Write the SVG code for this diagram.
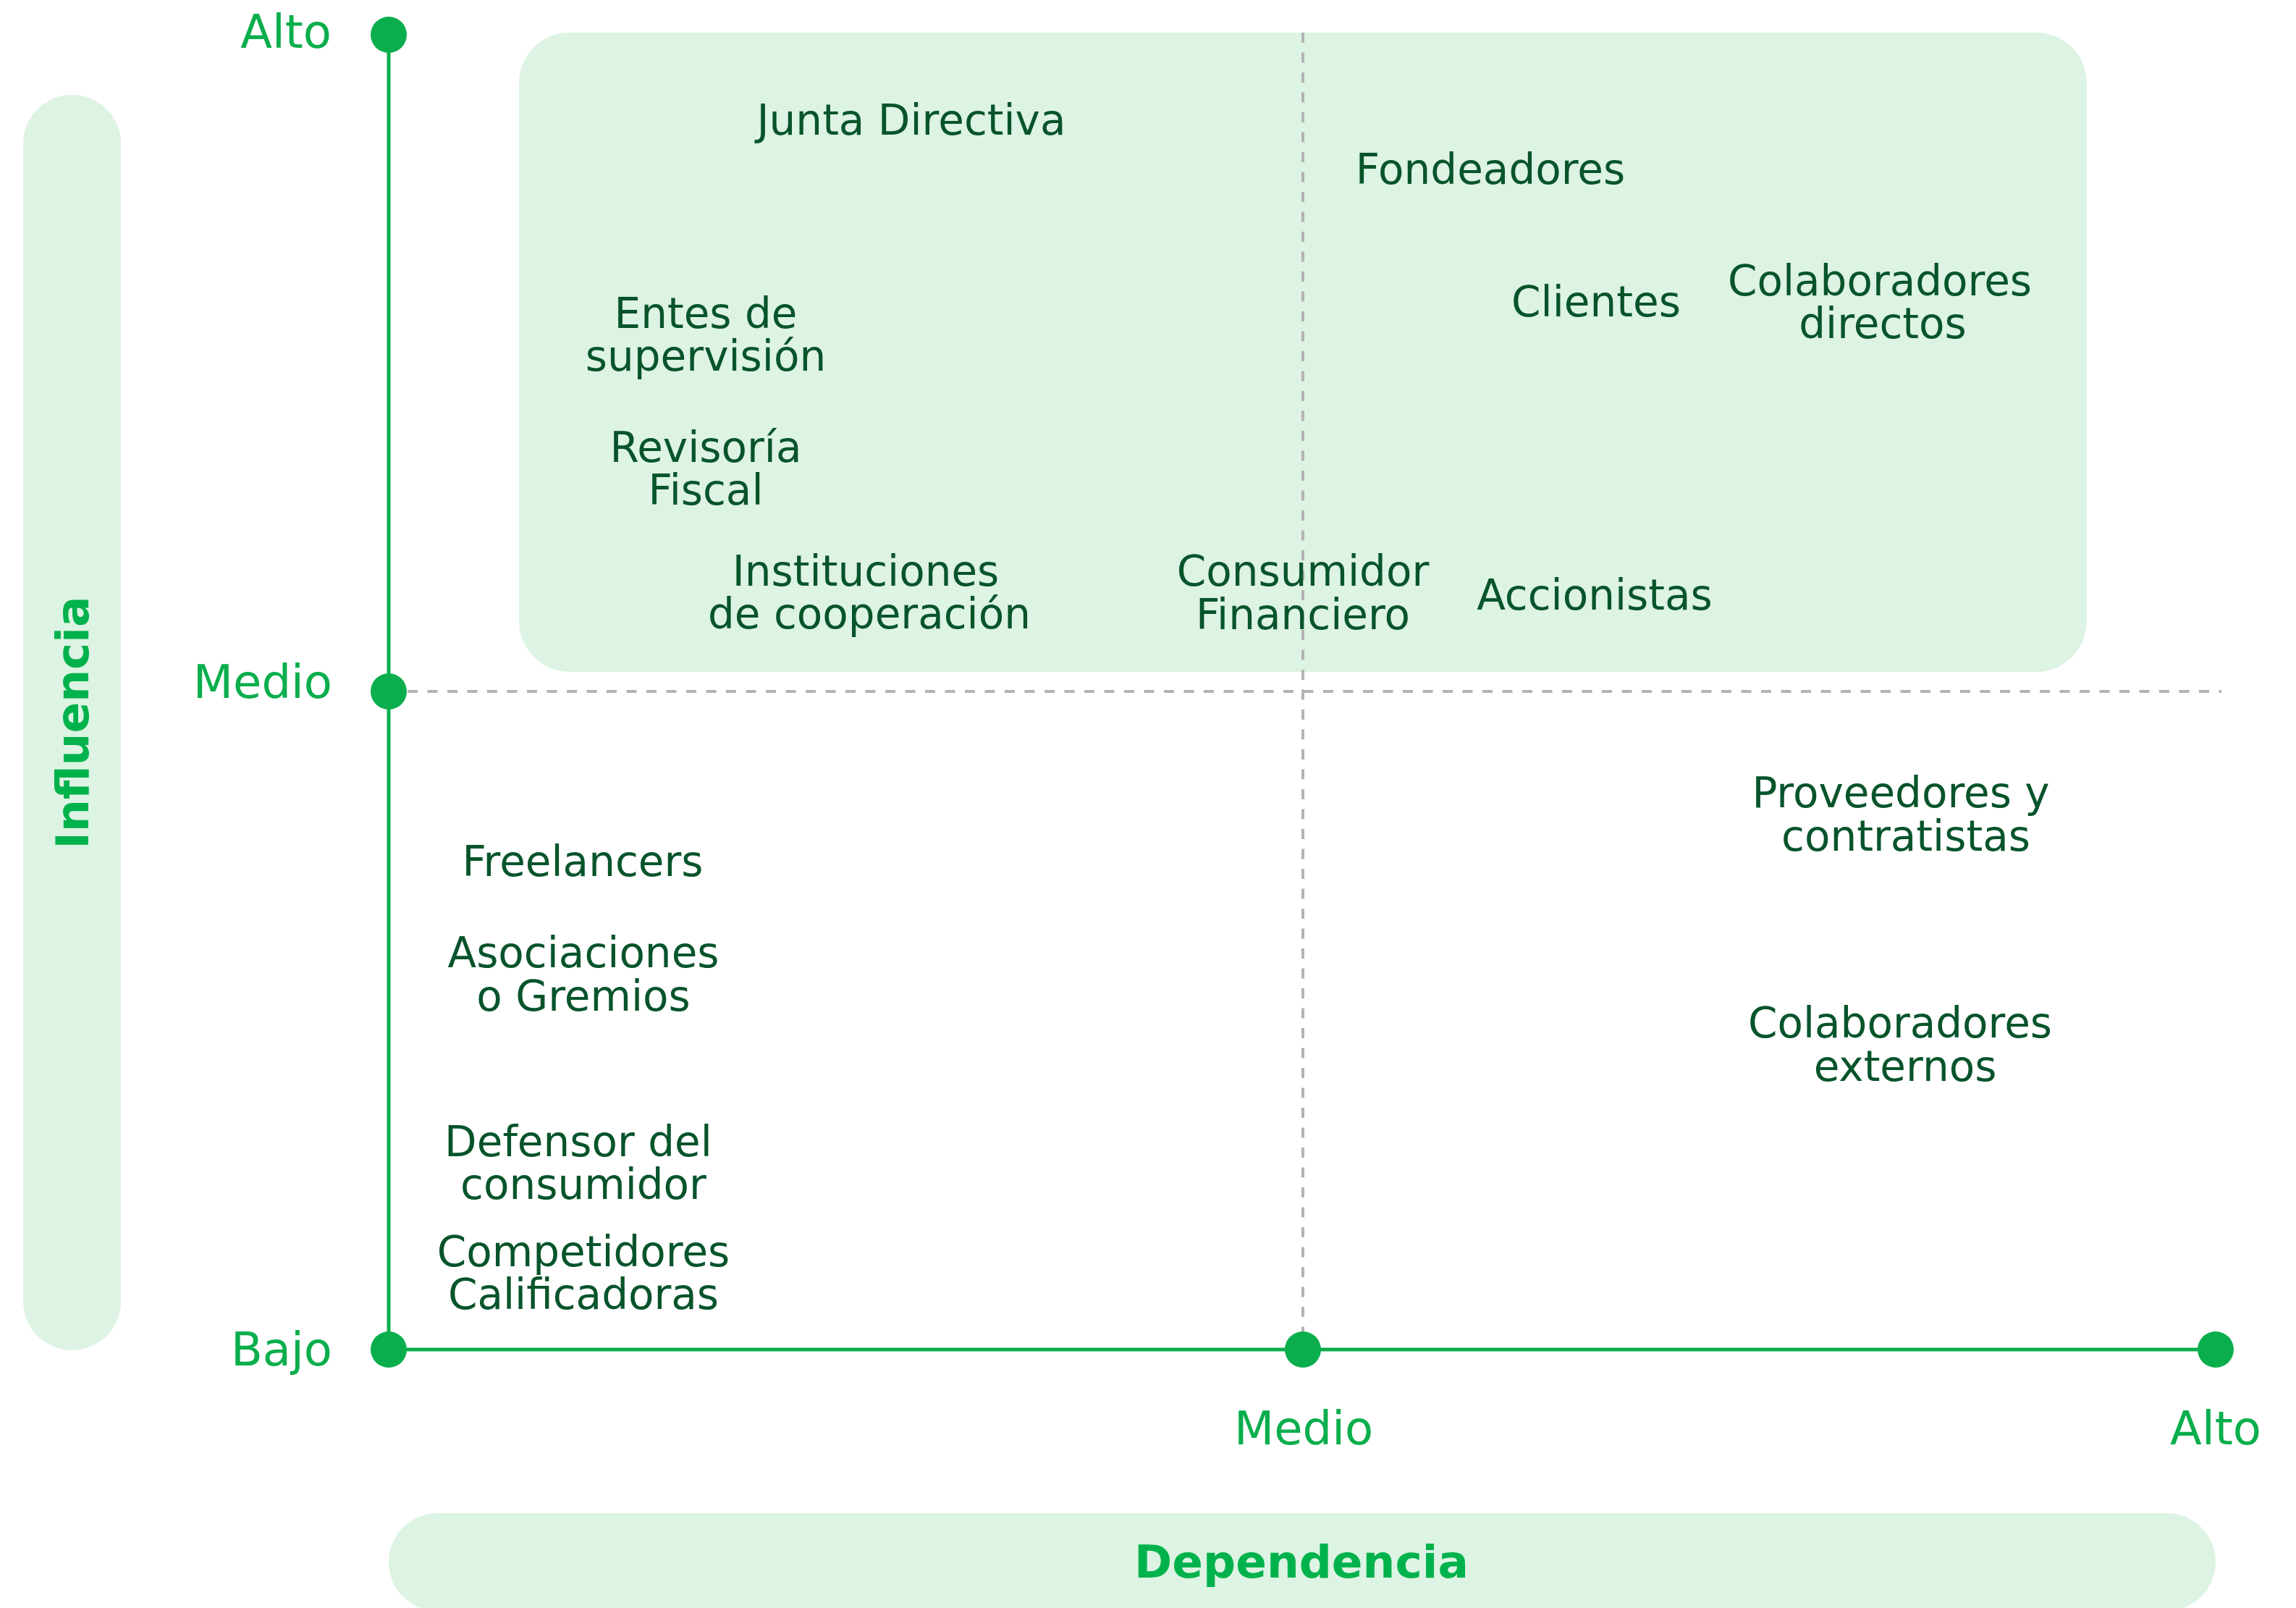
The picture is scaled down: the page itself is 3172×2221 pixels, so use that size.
<svg xmlns="http://www.w3.org/2000/svg" width="3172" height="2221" viewBox="0 0 3172 2221">
  <style>
    .pill { fill: #ddf3e3; }
    .axis { stroke: #0aae4c; stroke-width: 5; fill: none; }
    .dot { fill: #0aae4c; }
    .guide { stroke: #b3b3b3; stroke-width: 4; stroke-dasharray: 14 13.5; fill: none; }
    .tick { font-family: "DejaVu Sans", "Open Sans", sans-serif; font-size: 64px; fill: #0aae4c; }
    .title { font-family: "DejaVu Sans", "Open Sans", sans-serif; font-weight: bold; font-size: 63px; fill: #00b24c; text-anchor: middle; }
    .lbl { font-family: "DejaVu Sans", "Open Sans", sans-serif; font-size: 58px; fill: #07542b; text-anchor: middle; }
  </style>

  <!-- background shapes -->
  <g id="backgrounds">
    <rect class="pill" x="32" y="131" width="135" height="1734" rx="67.5"/>
    <rect class="pill" x="537" y="2090" width="2524" height="135" rx="67.5"/>
    <rect class="pill" x="717" y="45" width="2166" height="883" rx="70"/>
  </g>

  <!-- axes, guides and level markers -->
  <g id="connectors">
    <line class="guide" x1="1800" y1="45" x2="1800" y2="1840"/>
    <line class="guide" x1="563" y1="955" x2="3069" y2="955"/>
    <line class="axis" x1="537" y1="48" x2="537" y2="1864"/>
    <line class="axis" x1="537" y1="1864" x2="3061" y2="1864"/>
  </g>

  <g id="markers">
    <circle class="dot" cx="537" cy="48" r="25"/>
    <circle class="dot" cx="537" cy="955" r="25"/>
    <circle class="dot" cx="537" cy="1864" r="25"/>
    <circle class="dot" cx="1800" cy="1864" r="25"/>
    <circle class="dot" cx="3061" cy="1864" r="25"/>
  </g>

  <!-- scale labels -->
  <g id="scale-labels">
    <text class="tick" x="458" y="66" text-anchor="end">Alto</text>
    <text class="tick" x="459" y="964" text-anchor="end">Medio</text>
    <text class="tick" x="459" y="1886" text-anchor="end">Bajo</text>
    <text class="tick" x="1801" y="1995" text-anchor="middle">Medio</text>
    <text class="tick" x="3061" y="1995" text-anchor="middle">Alto</text>
  </g>

  <!-- axis titles -->
  <g id="axis-titles">
    <text class="title" transform="translate(122,998) rotate(-90)" x="0" y="0">Influencia</text>
    <text class="title" x="1798" y="2179">Dependencia</text>
  </g>

  <!-- stakeholders -->
  <g id="junta-directiva"><text class="lbl" x="1259" y="186">Junta Directiva</text></g>
  <g id="fondeadores"><text class="lbl" x="2059" y="254">Fondeadores</text></g>
  <g id="clientes"><text class="lbl" x="2205" y="437">Clientes</text></g>
  <g id="colaboradores-directos"><text class="lbl" x="2597" y="408">Colaboradores<tspan x="2601" dy="59">directos</tspan></text></g>
  <g id="entes-supervision"><text class="lbl" x="975" y="453">Entes de<tspan x="975" dy="59">supervisión</tspan></text></g>
  <g id="revisoria-fiscal"><text class="lbl" x="975" y="638">Revisoría<tspan x="975" dy="59">Fiscal</tspan></text></g>
  <g id="instituciones-cooperacion"><text class="lbl" x="1196" y="809">Instituciones<tspan x="1201" dy="59">de cooperación</tspan></text></g>
  <g id="consumidor-financiero"><text class="lbl" x="1800" y="809">Consumidor<tspan x="1800" dy="60">Financiero</tspan></text></g>
  <g id="accionistas"><text class="lbl" x="2203" y="842">Accionistas</text></g>
  <g id="proveedores-contratistas"><text class="lbl" x="2626" y="1115">Proveedores y<tspan x="2633" dy="60">contratistas</tspan></text></g>
  <g id="colaboradores-externos"><text class="lbl" x="2625" y="1433">Colaboradores<tspan x="2632" dy="60">externos</tspan></text></g>
  <g id="freelancers"><text class="lbl" x="805" y="1210">Freelancers</text></g>
  <g id="asociaciones-gremios"><text class="lbl" x="806" y="1336">Asociaciones<tspan x="806" dy="60">o Gremios</tspan></text></g>
  <g id="defensor-consumidor"><text class="lbl" x="799" y="1597">Defensor del<tspan x="806" dy="59">consumidor</tspan></text></g>
  <g id="competidores-calificadoras"><text class="lbl" x="806" y="1749">Competidores<tspan x="806" dy="59">Calificadoras</tspan></text></g>
</svg>
